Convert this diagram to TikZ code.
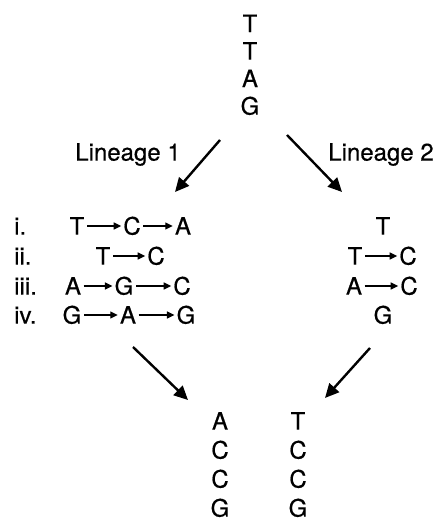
\documentclass[tikz,border=0pt]{standalone}
\usepackage{fontspec}
\setmainfont{TeX Gyre Heros}
\newfontfamily\diagfont[FakeBold=0.5]{TeX Gyre Heros}
\usetikzlibrary{arrows.meta}
\begin{document}
\begin{tikzpicture}[x=1pt,y=-1pt,
  lt/.style={font=\diagfont\fontsize{24}{24}\selectfont, inner sep=0pt, text height=17.2pt, text depth=0pt},
  lab/.style={lt, anchor=west},
  small/.style={line width=1.3pt, -{Triangle[length=7.5pt,width=7pt]}, shorten <=2.5pt, shorten >=2pt},
  big/.style={line width=2.4pt, -{Triangle[length=14pt,width=13pt]}}]
\useasboundingbox (0,0) rectangle (437,522);
% ancestral sequence
\node[lt] (t1) at (250,23.5) {T};
\node[lt] (t2) at (250,51) {T};
\node[lt] (t3) at (250,78.5) {A};
\node[lt] (t4) at (250,106) {G};
% lineage labels
\node[lt] (lin1) at (128,152) {Lineage 1};
\node[lt] (lin2) at (381,152) {Lineage 2};
% big arrow end points
\coordinate (a1s) at (220,140);
\coordinate (a1e) at (175,192);
\coordinate (a2s) at (287,135);
\coordinate (a2e) at (342,192);
\coordinate (b1s) at (133,347);
\coordinate (b1e) at (188,400);
\coordinate (b2s) at (370,348);
\coordinate (b2e) at (325,398);
\draw[big] (a1s) -- (a1e);
\draw[big] (a2s) -- (a2e);
\draw[big] (b1s) -- (b1e);
\draw[big] (b2s) -- (b2e);
% row labels
\node[lab] (ri) at (14,226) {i.};
\node[lab] (rii) at (14,256) {ii.};
\node[lab] (riii) at (14,286) {iii.};
\node[lab] (riv) at (14,315) {iv.};
% lineage 1 rows
\node[lt] (l1a) at (77,226) {T};
\node[lt] (l1b) at (132,226) {C};
\node[lt] (l1c) at (183,226) {A};
\draw[small] (l1a) -- (l1b);
\draw[small] (l1b) -- (l1c);
\node[lt] (l2a) at (103,256) {T};
\node[lt] (l2b) at (156,256) {C};
\draw[small] (l2a) -- (l2b);
\node[lt] (l3a) at (73,286) {A};
\node[lt] (l3b) at (124,286) {G};
\node[lt] (l3c) at (182,286) {C};
\draw[small] (l3a) -- (l3b);
\draw[small] (l3b) -- (l3c);
\node[lt] (l4a) at (72,315) {G};
\node[lt] (l4b) at (128,315) {A};
\node[lt] (l4c) at (186,315) {G};
\draw[small] (l4a) -- (l4b);
\draw[small] (l4b) -- (l4c);
% lineage 2 rows
\node[lt] (m1a) at (383,226) {T};
\node[lt] (m2a) at (355,256) {T};
\node[lt] (m2b) at (408,256) {C};
\draw[small] (m2a) -- (m2b);
\node[lt] (m3a) at (354,286) {A};
\node[lt] (m3b) at (409,286) {C};
\draw[small] (m3a) -- (m3b);
\node[lt] (m4a) at (383,315) {G};
% descendant sequences
\node[lt] (d1a) at (220,421) {A};
\node[lt] (d1b) at (220,450) {C};
\node[lt] (d1c) at (220,479) {C};
\node[lt] (d1d) at (220,508) {G};
\node[lt] (d2a) at (298,421) {T};
\node[lt] (d2b) at (298,450) {C};
\node[lt] (d2c) at (298,479) {C};
\node[lt] (d2d) at (298,508) {G};
\end{tikzpicture}
\end{document}
